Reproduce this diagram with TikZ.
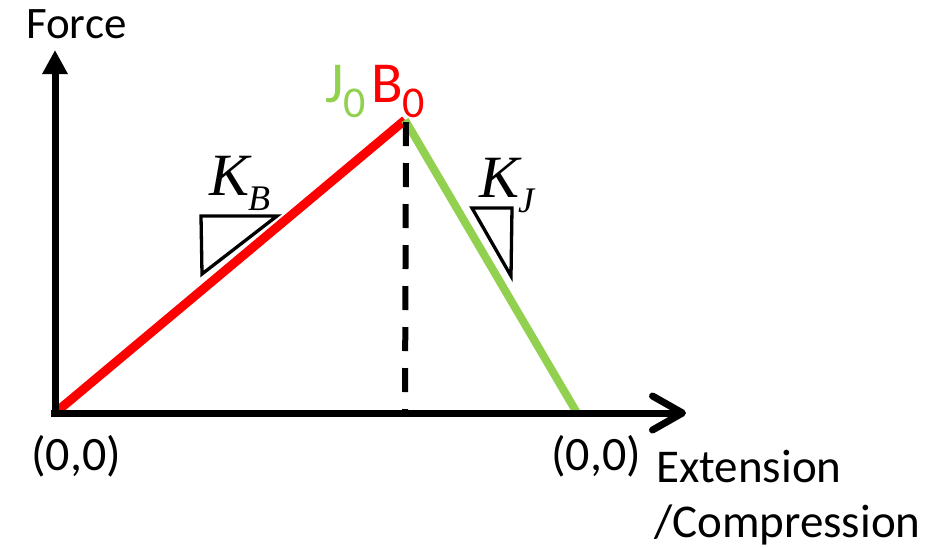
\documentclass[tikz,border=0pt]{standalone}
\usepackage{fontspec}
\setmainfont{Carlito}
\newfontfamily\kfont{Liberation Serif}
\usetikzlibrary{arrows.meta}
\definecolor{myred}{RGB}{255,0,0}
\definecolor{mygreen}{RGB}{146,208,80}
\begin{document}
\begin{tikzpicture}[x=1pt,y=-1pt,
  axis/.style={line width=7pt},
  redline/.style={myred,line width=9pt},
  greenline/.style={mygreen,line width=8pt},
  guide/.style={line width=6pt,dash pattern=on 24pt off 17pt},
  slopetri/.style={line width=3.3pt,line join=miter},
  lbl/.style={inner sep=0pt,font=\fontsize{47}{47}\selectfont},
  big/.style={inner sep=0pt,font=\fontsize{58}{58}\selectfont},
  mathlbl/.style={inner sep=0pt,font=\kfont\itshape\fontsize{60}{60}\selectfont}]
\useasboundingbox (0,0) rectangle (950,547);
% key points
\coordinate (O) at (55,413);
\coordinate (P) at (405,120);
\coordinate (E) at (577,413);
\coordinate (F) at (405,411);
\coordinate (Ytop) at (55,50);
\coordinate (Xtip) at (686,413);
\coordinate (Ostart) at (51,413);
% curves
\draw[redline] (O) -- (P);
\draw[greenline] (P) -- (E);
\draw[guide] (406,122) -- (F);
% axes
\draw[axis,-{Triangle[length=24pt,width=24pt]}] (55,416.5) -- (Ytop);
\draw[axis,-{Straight Barb[length=30pt,width=34pt,round]}] (Ostart) -- (Xtip);
% slope triangles
\draw[slopetri] (201,216) -- (277,216) -- (202,274) -- cycle;
\draw[slopetri] (472,208) -- (512,208) -- (511,276) -- cycle;
% labels
\node[mathlbl,anchor=base west] (kb) at (209,195) {K\kern-1pt\raisebox{-15pt}{\fontsize{36}{36}\selectfont B}};
\node[mathlbl,anchor=base west] (kj) at (479,197) {K\kern-1pt\raisebox{-15pt}{\fontsize{36}{36}\selectfont J}};
\node[lbl,anchor=base west,font=\fontsize{45}{45}\selectfont] (force) at (26,38) {Force};
\node[lbl,anchor=base west,font=\fontsize{48}{48}\selectfont] (o1) at (31,470) {(0,0)};
\node[lbl,anchor=base west,font=\fontsize{48}{48}\selectfont] (o2) at (551,470) {(0,0)};
\node[lbl,anchor=base west] (ext) at (656,482) {Extension};
\node[lbl,anchor=base west] (comp) at (654,537) {/Compression};
\node[big,anchor=base west,text=mygreen] (j0) at (325,102) {J\raisebox{-15pt}{\fontsize{44}{44}\selectfont 0}};
\node[big,anchor=base west,text=myred] (b0) at (371,102) {B\raisebox{-15pt}{\fontsize{44}{44}\selectfont 0}};
\end{tikzpicture}
\end{document}
